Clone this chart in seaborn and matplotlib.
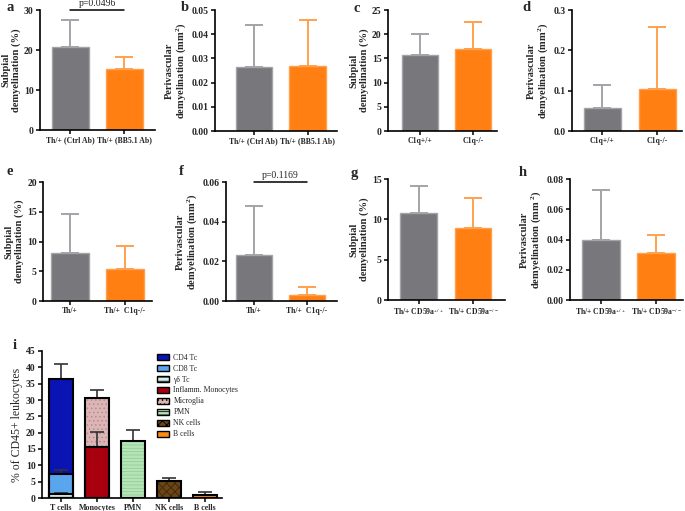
import numpy as np
import pandas as pd
import matplotlib
matplotlib.use("Agg")
import matplotlib.pyplot as plt
import seaborn as sns
from matplotlib.patches import Patch, Rectangle

sns.set_style("ticks")
plt.rcParams["font.family"] = ["Liberation Serif", "DejaVu Serif"]
plt.rcParams["font.weight"] = "bold"
plt.rcParams["mathtext.fontset"] = "custom"
plt.rcParams["mathtext.rm"] = "Liberation Serif:bold"
plt.rcParams["mathtext.it"] = "Liberation Serif:bold"
plt.rcParams["hatch.linewidth"] = 0.6

GRAY = "#78777c"
ORANGE = "#ff7f13"
GRAY_ERR = "#a3a3a8"
ORANGE_ERR = "#ffa04d"

# ---- data for the two-bar panels ----
cats_ab = ["Th/+ (Ctrl Ab)", "Th/+ (BB5.1 Ab)"]
cats_cd = ["C1q+/+", "C1q-/-"]
cats_ef = ["Th/+", "Th/+  C1q-/-"]
cats_gh = ["Th/+ CD59a$^{+/+}$", "Th/+ CD59a$^{-/-}$"]

mean_a = [20.8, 15.3]
err_a = [6.7, 3.0]
mean_b = [0.0265, 0.0267]
err_b = [0.0175, 0.0193]
mean_c = [15.8, 17.0]
err_c = [4.2, 5.5]
mean_d = [0.058, 0.104]
err_d = [0.055, 0.154]
mean_e = [8.0, 5.4]
err_e = [6.7, 3.8]
mean_f = [0.023, 0.003]
err_f = [0.025, 0.004]
mean_g = [10.8, 8.9]
err_g = [3.3, 3.7]
mean_h = [0.040, 0.031]
err_h = [0.033, 0.012]

subpial = "Subpial\ndemyelination (%)"
periv = "Perivascular\ndemyelination (mm$^2$)"
periv_h = "Perivascular\ndemyelination (mm $^2$)"

# ---- data for panel i ----
groups_i = ["T cells", "Monocytes", "PMN", "NK cells", "B cells"]
seg_names = ["CD4 Tc", "CD8 Tc", "\u03b3\u03b4 Tc", "Inflamm. Monocytes",
             "Microglia", "PMN", "NK cells", "B cells"]
seg_group = ["T cells", "T cells", "T cells", "Monocytes",
             "Monocytes", "PMN", "NK cells", "B cells"]
seg_level = [2, 1, 0, 0, 1, 0, 0, 0]
seg_value = [29.0, 6.1, 1.2, 15.5, 15.1, 17.6, 5.3, 1.0]
seg_err = [4.7, 1.3, 0.4, 4.8, 2.4, 3.2, 0.7, 0.8]
seg_color = ["#0a14b4", "#5aa6ee", "#d4eee8", "#a8000e",
             "#dcb6b6", "#b6e4b8", "#6a4518", "#ff8a10"]
seg_hatch = [None, None, "----", None, "....", "-----", "xxxx", None]
seg_hcolor = [None, None, "#9fd0c8", None, "#b98a8a", "#8fcf94", "#3e2608", None]

fig = plt.figure(figsize=(6.85, 5.11), dpi=100)
W, H = 685, 511


def px_axes(x0, y_top, x1, y_bot):
    return fig.add_axes([x0 / W, 1 - y_bot / H, (x1 - x0) / W, (y_bot - y_top) / H])


def two_bar(rect, cats, means, errs, ylim, yticks, fmt, ylabel, letter, xlim, pval=None):
    ax = px_axes(*rect)
    sns.barplot(x=cats, y=means, hue=cats, palette=[GRAY, ORANGE], legend=False,
                width=0.68, saturation=1, ax=ax)
    for p, ec in zip(ax.patches, ["#a4a4a8", "#ffa050"]):
        p.set_edgecolor(ec)
        p.set_linewidth(1.0)
    for i, (m, e, c) in enumerate(zip(means, errs, [GRAY_ERR, ORANGE_ERR])):
        ax.errorbar(i, m, yerr=[[0], [e]], fmt="none", ecolor=c,
                    elinewidth=1.4, capsize=6.5, capthick=1.4, zorder=1)
    ax.set_xlim(*xlim)
    ax.set_ylim(*ylim)
    ax.set_yticks(yticks)
    ax.set_yticklabels([fmt.format(t) for t in yticks], fontsize=7, fontweight="bold")
    ax.set_xticks([0, 1])
    ax.set_xticklabels(cats, fontsize=5.6, fontweight="bold")
    ax.set_ylabel(ylabel, fontsize=7.6, fontweight="bold", labelpad=2.5, linespacing=1.05)
    ax.set_xlabel("")
    ax.tick_params(length=3, width=1.1, pad=1.5, color="black")
    for s in ["left", "bottom"]:
        ax.spines[s].set_linewidth(1.2)
        ax.spines[s].set_color("black")
    sns.despine(ax=ax)
    if pval is not None:
        ax.plot([0, 1], [ylim[1], ylim[1]], color="black", lw=1.1, clip_on=False)
        ax.text(0.5, ylim[1] * 1.015, pval, ha="center", va="bottom",
                fontsize=7, fontweight="normal")
    fig.text(letter[1] / W, 1 - letter[2] / H, letter[0], fontsize=10.5,
             fontweight="bold", ha="left", va="center")
    return ax


two_bar((40, 10, 155, 130), cats_ab, mean_a, err_a, (0, 30), [0, 10, 20, 30], "{:.0f}",
        subpial, ("a", 6, 7), (-0.56, 1.57), pval="p=0.0496")
two_bar((215, 10, 337, 131), cats_ab, mean_b, err_b, (0, 0.05),
        [0, 0.01, 0.02, 0.03, 0.04, 0.05], "{:.2f}", periv, ("b", 181, 7), (-0.72, 1.54))
two_bar((388, 10, 497, 131), cats_cd, mean_c, err_c, (0, 25), [0, 5, 10, 15, 20, 25],
        "{:.0f}", subpial, ("c", 354, 8), (-0.6, 1.45))
two_bar((572, 10, 682, 131), cats_cd, mean_d, err_d, (0, 0.3), [0, 0.1, 0.2, 0.3],
        "{:.1f}", periv, ("d", 522, 7), (-0.55, 1.45))
two_bar((43, 182, 152, 301), cats_ef, mean_e, err_e, (0, 20), [0, 5, 10, 15, 20],
        "{:.0f}", subpial, ("e", 6, 171), (-0.49, 1.49))
two_bar((226, 182, 337, 301), cats_ef, mean_f, err_f, (0, 0.06), [0, 0.02, 0.04, 0.06],
        "{:.2f}", periv, ("f", 179, 171), (-0.53, 1.57), pval="p=0.1169")
two_bar((388, 179, 505, 300), cats_gh, mean_g, err_g, (0, 15), [0, 5, 10, 15],
        "{:.0f}", subpial, ("g", 351, 174), (-0.57, 1.59))
two_bar((570, 179, 683, 300), cats_gh, mean_h, err_h, (0, 0.08),
        [0, 0.02, 0.04, 0.06, 0.08], "{:.2f}", periv_h, ("h", 519, 173), (-0.56, 1.49))

# ---- panel i: stacked bars ----
axi = px_axes(42, 351, 222, 498)
seg = pd.DataFrame({"name": seg_names, "group": seg_group, "level": seg_level,
                    "value": seg_value, "err": seg_err, "color": seg_color,
                    "hatch": seg_hatch, "hcolor": seg_hcolor})
seg = seg.sort_values(["group", "level"])
seg["top"] = seg.groupby("group")["value"].cumsum()
seg = seg.sort_values("top", ascending=False)

drawn = []
for _, r in seg.iterrows():
    n0 = len(axi.patches)
    sns.barplot(x=[r["group"]], y=[r["top"]], order=groups_i, color=r["color"],
                saturation=1, width=0.68, ax=axi)
    for p in axi.patches[n0:]:
        if r["hatch"]:
            p.set_hatch(r["hatch"])
            p.set_edgecolor(r["hcolor"])
        else:
            p.set_edgecolor(r["color"])
        p.set_linewidth(0)
        drawn.append(p)

for _, r in seg.iterrows():
    xi = groups_i.index(r["group"])
    axi.errorbar(xi, r["top"], yerr=[[0], [r["err"]]], fmt="none", ecolor="#333333",
                 elinewidth=1.2, capsize=5, capthick=1.2, zorder=3)

for p in drawn:
    axi.add_patch(Rectangle(p.get_xy(), p.get_width(), p.get_height(), fill=False,
                            edgecolor="black", lw=1.5, zorder=4))

axi.set_xlim(-0.53, 4.47)
axi.set_ylim(0, 45)
axi.set_yticks(np.arange(0, 46, 5))
axi.set_yticklabels([str(t) for t in range(0, 46, 5)], fontsize=7, fontweight="bold")
axi.set_xticks(range(len(groups_i)))
axi.set_xticklabels(groups_i, fontsize=5.8, fontweight="bold")
axi.set_ylabel("% of CD45+ leukocytes", fontsize=8.5, fontweight="normal", labelpad=2)
axi.set_xlabel("")
axi.tick_params(length=3, width=1.1, pad=1.5, color="black")
for s in ["left", "bottom"]:
    axi.spines[s].set_linewidth(1.2)
    axi.spines[s].set_color("black")
sns.despine(ax=axi)

leg_handles = [Patch(facecolor=c, edgecolor="black", hatch=h, lw=1.0)
               for c, h in zip(seg_color, seg_hatch)]
axi.legend(leg_handles, seg_names, loc="upper left", bbox_to_anchor=(0.6, 1.03),
           frameon=False, handlelength=1.6, handleheight=0.8,
           labelspacing=0.38, handletextpad=0.5, prop={"size": 5.6, "weight": "normal"})
fig.text(13 / W, 1 - 345 / H, "i", fontsize=10.5, fontweight="bold", ha="left", va="center")

fig.savefig("out.png", dpi=100)
